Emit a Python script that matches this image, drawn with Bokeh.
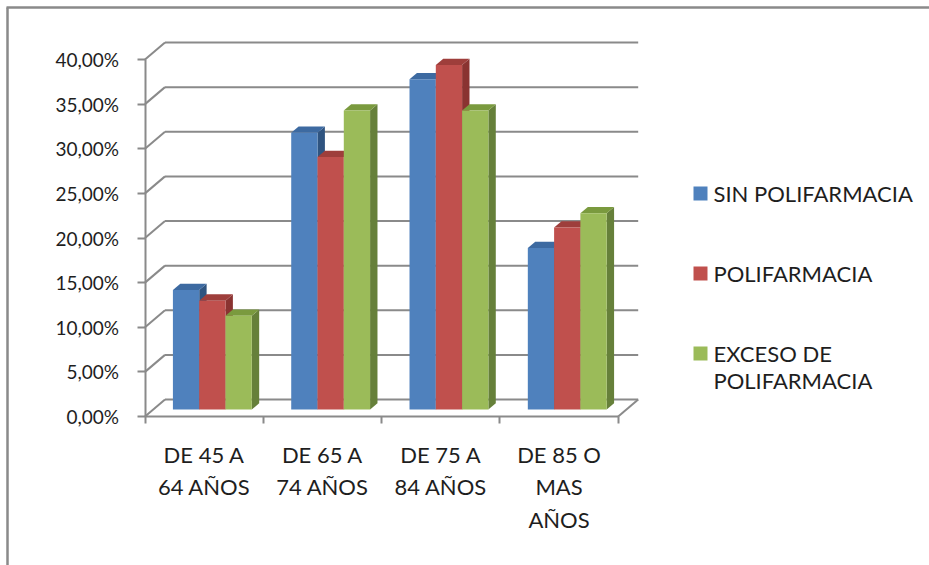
from bokeh.plotting import figure
from bokeh.models import LinearAxis, FixedTicker, Range1d
from bokeh.embed import file_html
from bokeh.resources import INLINE
from bokeh.core.properties import value

# ---------------- data ----------------
categories = ["DE 45 A\n64 AÑOS", "DE 65 A\n74 AÑOS", "DE 75 A\n84 AÑOS", "DE 85 O\nMAS\nAÑOS"]
series_names = ["SIN POLIFARMACIA", "POLIFARMACIA", "EXCESO DE\nPOLIFARMACIA"]
sin_polifarmacia = [13.4, 31.0, 37.0, 18.1]
polifarmacia = [12.2, 28.3, 38.6, 20.4]
exceso_polifarmacia = [10.5, 33.5, 33.5, 22.0]
y_ticks = [0, 5, 10, 15, 20, 25, 30, 35, 40]
y_tick_labels = ["0,00%", "5,00%", "10,00%", "15,00%", "20,00%", "25,00%", "30,00%", "35,00%", "40,00%"]

series_values = [sin_polifarmacia, polifarmacia, exceso_polifarmacia]
front_colors = ["#4F81BD", "#C0504D", "#9BBB59"]
top_colors = ["#3D6AA1", "#9E3E3B", "#7A9A3E"]
side_colors = ["#2F5480", "#8A3331", "#66803A"]

FONT = "Lato"
TXT = "#1e1e1e"
GRID = "#8a8a8a"

# ---------------- geometry (pixel -> data) ----------------
W, H = 929, 565
X0, Y0 = 144.5, 416.0      # front origin of the plot box in pixels
CW, YS = 118.3, 8.925      # px per category, px per percent
DX, DY = 20.0 / CW, 17.0 / YS   # full depth offset in data units
F1, F2 = 0.41, 0.78        # bar front / back depth fraction
n_cat = len(categories)


def px(x):
    return (x - X0) / CW


def py(y):
    return (Y0 - y) / YS


p = figure(width=W, height=H, x_range=Range1d(px(0), px(W)), y_range=Range1d(py(H), py(0)),
           x_axis_type=None, y_axis_type=None, min_border=0,
           toolbar_location=None, output_backend="svg", outline_line_color=None)
p.background_fill_color = "white"
p.border_fill_color = "white"

# chart border (top and left edges)
p.line([px(6), px(W)], [py(7), py(7)], line_color=GRID, line_width=2.5)
p.line([px(7), px(7)], [py(7), py(H)], line_color=GRID, line_width=2.5)

# back wall grid + left wall diagonals
p.multi_line(xs=[[DX, n_cat + DX] for v in y_ticks], ys=[[v + DY, v + DY] for v in y_ticks],
             line_color=GRID, line_width=2)
p.multi_line(xs=[[0, DX] for v in y_ticks], ys=[[v, v + DY] for v in y_ticks],
             line_color=GRID, line_width=2)
# floor right edge
p.line([n_cat, n_cat + DX], [0, DY], line_color=GRID, line_width=2)

# ---------------- 3D bars ----------------
bw = 1.0 / 4.5
gap = 1.5 * bw
for j, vals in enumerate(series_values):
    xl = [i + gap / 2 + j * bw for i in range(n_cat)]
    xr = [x + bw for x in xl]
    sides_x = [[r + F1 * DX, r + F1 * DX, r + F2 * DX, r + F2 * DX] for r in xr]
    sides_y = [[F1 * DY, v + F1 * DY, v + F2 * DY, F2 * DY] for v in vals]
    p.patches(sides_x, sides_y, fill_color=side_colors[j], line_color=None)
    tops_x = [[l + F1 * DX, r + F1 * DX, r + F2 * DX, l + F2 * DX] for l, r in zip(xl, xr)]
    tops_y = [[v + F1 * DY, v + F1 * DY, v + F2 * DY, v + F2 * DY] for v in vals]
    p.patches(tops_x, tops_y, fill_color=top_colors[j], line_color=None)
    p.vbar(x=[l + bw / 2 + F1 * DX for l in xl], width=bw, bottom=F1 * DY,
           top=[v + F1 * DY for v in vals], fill_color=front_colors[j], line_color=None)

# ---------------- axes ----------------
yaxis = LinearAxis(fixed_location=0, bounds=(0, 40),
                   ticker=FixedTicker(ticks=y_ticks),
                   major_label_overrides={t: s for t, s in zip(y_ticks, y_tick_labels)})
yaxis.axis_line_color = GRID
yaxis.axis_line_width = 2
yaxis.major_tick_line_color = GRID
yaxis.major_tick_line_width = 2
yaxis.major_tick_out = 8
yaxis.major_tick_in = 0
yaxis.minor_tick_line_color = None
yaxis.major_label_standoff = 18
yaxis.major_label_text_font = FONT
yaxis.major_label_text_font_size = "19px"
yaxis.major_label_text_color = TXT
p.add_layout(yaxis, "left")

centers = [i + 0.5 for i in range(n_cat)]
bounds_ticks = [i for i in range(n_cat + 1)]
xaxis = LinearAxis(fixed_location=0, bounds=(0, n_cat),
                   ticker=FixedTicker(ticks=centers, minor_ticks=bounds_ticks),
                   major_label_overrides={c: s for c, s in zip(centers, categories)})
xaxis.axis_line_color = GRID
xaxis.axis_line_width = 2
xaxis.major_tick_line_color = None
xaxis.major_tick_out = 0
xaxis.major_tick_in = 0
xaxis.minor_tick_line_color = GRID
xaxis.minor_tick_line_width = 2
xaxis.minor_tick_out = 7
xaxis.minor_tick_in = 0
xaxis.major_label_standoff = 17
xaxis.major_label_text_font = FONT
xaxis.major_label_text_font_size = "22px"
xaxis.major_label_text_color = TXT
xaxis.major_label_text_line_height = 1.22
p.add_layout(xaxis, "below")

# ---------------- legend ----------------
leg_y = [193, 273, 353]
p.scatter([px(700)] * 3, [py(y) for y in leg_y], marker="square", size=14,
          fill_color=front_colors, line_color=None)
for name, y in zip(series_names, leg_y):
    lines = name.split("\n")
    p.text([px(713)] * len(lines), [py(y + k * 27) for k in range(len(lines))], text=lines,
           text_font=value(FONT), text_font_size="22px", text_color=TXT,
           text_baseline="middle", text_align="left")

open("out.html", "w").write(file_html(p, INLINE))
